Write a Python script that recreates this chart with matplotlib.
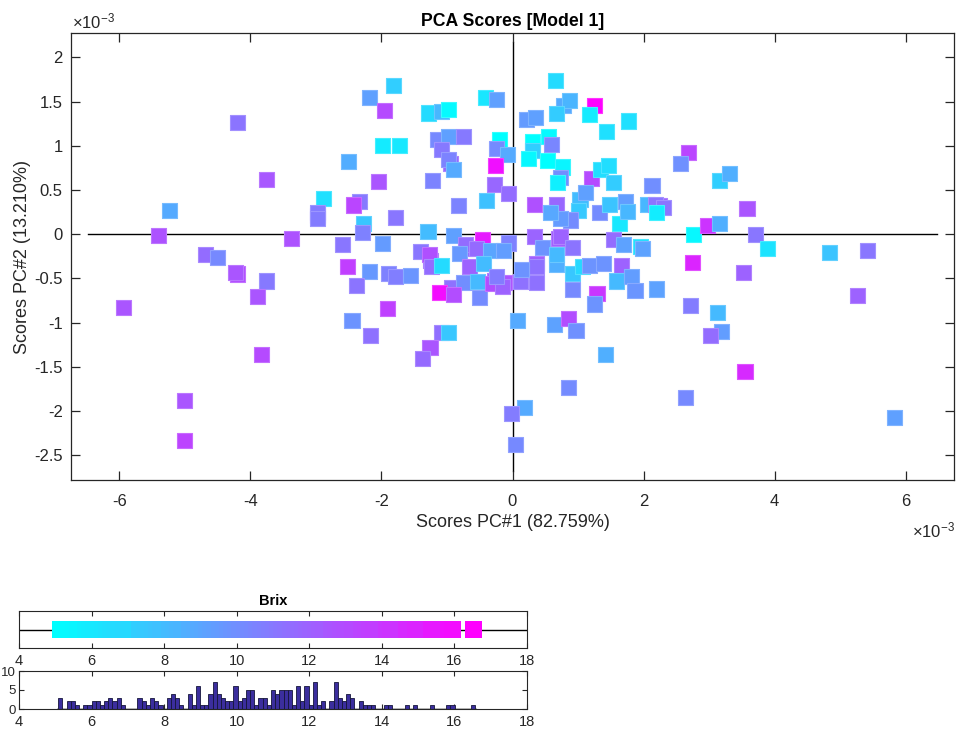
import numpy as np
import matplotlib
matplotlib.use("Agg")
import matplotlib.pyplot as plt
from matplotlib.colors import Normalize

plt.rcParams['font.family'] = ['Liberation Sans', 'DejaVu Sans']
plt.rcParams['mathtext.fontset'] = 'custom'
plt.rcParams['mathtext.rm'] = 'Liberation Sans'
plt.rcParams['mathtext.it'] = 'Liberation Sans'

# scores (x1e-3), first rows are samples hidden behind others
pc1 = [-0.70, 0.36, -0.28, -1.25, 0.70, -0.95, 2.25, -2.97, -4.20, 0.35, -0.12,
       -4.20, -3.76, -5.24, -5.41, -2.89, -2.97, -2.97, -3.38, -4.68, -4.50, -4.23, -3.75,
       -3.89, -5.94, -3.83, -5.01, -5.01,
       -1.82, -2.19, -1.96, -1.28, -1.09, -0.98, -0.41, -0.25, 0.65, 0.78, 0.87, 1.25,
       1.18, 0.67, 0.22, 0.35, 1.77, 1.43, -1.99, -1.72, -1.15, -0.98, -0.75, -1.09,
       -0.20, -0.24, -0.08, -0.26, 0.31, 0.55, 0.60, 0.31, 0.25, 0.53, 0.77, -0.98,
       -0.90, -2.51, -1.22, -2.04, -0.28, -0.06, 0.73, 0.69, 1.20, 1.34, 1.47, 1.54,
       -2.33, -2.43, -1.78, -0.83, -0.39, 0.34, 0.67, 1.03, 1.11, 1.01, 0.89, 0.73,
       0.58, 1.33, 1.48, 1.64, -2.28, -2.29, -1.99, -2.59, -1.29, -0.90, -0.46, -0.72,
       -0.06, 0.34, 0.73, 1.54,
       -1.41, -1.27, -1.23, -1.08, -0.81, -0.55, -0.34, -0.14, -0.66, -0.44, -2.52, -2.19,
       -1.89, -1.79, -1.56, -2.38, -0.93, -0.75, -0.53, -1.11, -0.90, -0.51, -0.30, -0.15,
       -0.25, 0.12, 0.37, 0.36, 0.14, 0.46, 0.67, 0.67, 0.92, 0.92, 1.07, 1.18,
       1.39, 1.67, 1.59, 0.92, 1.29, 1.25, -2.45, -1.91, -2.17, -1.09, -0.98, -1.26,
       -1.37, 0.08, 0.64, 0.85, 0.97, 1.42, 0.85, 0.19, -0.02, 0.04,
       2.77, 2.97, 3.16, 3.71, 3.89, 4.84, 5.42, 1.69, 1.95, 1.98, 1.82, 1.87,
       2.20, 2.75, 3.52, 5.27, 2.72, 3.13, 3.19, 3.02, 3.55, 2.64, 5.83, 2.69,
       2.56, 2.13, 3.16, 3.31, 1.72, 1.75, 2.06, 2.18, 2.30, 2.20, 3.58]
pc2 = [-0.16, -0.33, -0.52, -0.30, -0.05, 0.80, 0.32, 0.21, -0.45, -0.52, -0.55,
       1.26, 0.62, 0.27, -0.01, 0.40, 0.24, 0.18, -0.05, -0.23, -0.26, -0.43, -0.53,
       -0.70, -0.83, -1.36, -1.88, -2.33,
       1.68, 1.55, 1.40, 1.37, 1.39, 1.41, 1.55, 1.52, 1.74, 1.46, 1.51, 1.46,
       1.35, 1.36, 1.30, 1.32, 1.28, 1.16, 1.00, 1.00, 1.07, 1.10, 1.10, 0.96,
       1.07, 0.97, 0.90, 0.78, 1.05, 1.10, 1.01, 0.95, 0.86, 0.83, 0.76, 0.84,
       0.73, 0.82, 0.61, 0.60, 0.56, 0.46, 0.64, 0.58, 0.63, 0.73, 0.78, 0.58,
       0.37, 0.33, 0.19, 0.32, 0.38, 0.34, 0.34, 0.39, 0.47, 0.27, 0.16, 0.18,
       0.24, 0.24, 0.34, 0.12, 0.12, 0.02, -0.11, -0.12, 0.03, -0.02, -0.06, -0.12,
       -0.10, -0.03, -0.03, -0.06,
       -0.20, -0.23, -0.37, -0.35, -0.22, -0.16, -0.18, -0.18, -0.37, -0.33, -0.37, -0.42,
       -0.44, -0.48, -0.47, -0.58, -0.60, -0.55, -0.54, -0.66, -0.68, -0.72, -0.56, -0.59,
       -0.48, -0.54, -0.55, -0.37, -0.40, -0.15, -0.34, -0.23, -0.15, -0.44, -0.37, -0.35,
       -0.33, -0.35, -0.53, -0.63, -0.67, -0.79, -0.98, -0.84, -1.15, -1.11, -1.11, -1.28,
       -1.41, -0.98, -1.02, -0.95, -1.09, -1.36, -1.73, -1.96, -2.03, -2.38,
       0.00, 0.10, 0.12, 0.00, -0.16, -0.21, -0.18, -0.12, -0.14, -0.16, -0.48, -0.64,
       -0.62, -0.32, -0.43, -0.69, -0.81, -0.89, -1.10, -1.15, -1.55, -1.85, -2.07, 0.92,
       0.80, 0.55, 0.61, 0.69, 0.37, 0.26, 0.34, 0.34, 0.30, 0.24, 0.29]
# brix guessed from marker colour, only used to rank the samples
brix_est = [12.0, 12.5, 12.5, 12.0, 12.5, 12.0, 12.2, 12.0, 13.0, 12.5, 12.8,
            11.5, 12.5, 8.8, 12.8, 6.2, 11.0, 11.0, 12.8, 11.8, 10.8, 12.5, 11.0,
            12.5, 12.5, 13.0, 12.5, 13.2,
            7.2, 9.0, 13.0, 6.5, 8.2, 5.5, 5.8, 9.0, 6.3, 8.8, 8.2, 16.5,
            5.7, 7.3, 9.5, 9.0, 6.2, 6.2, 5.7, 5.7, 10.8, 9.0, 11.0, 11.0,
            5.1, 10.5, 8.8, 16.0, 5.4, 5.4, 10.8, 7.2, 5.6, 5.1, 5.6, 10.8,
            8.8, 8.5, 10.8, 12.5, 12.0, 11.7, 10.0, 5.6, 13.0, 6.2, 6.2, 7.3,
            11.0, 13.0, 11.0, 10.8, 7.8, 12.8, 12.0, 7.8, 9.0, 7.3, 10.5, 9.5,
            8.8, 10.5, 7.5, 5.7, 7.3, 10.8, 9.5, 11.0, 7.8, 9.0, 15.5, 11.8,
            10.8, 12.0, 12.3, 11.8,
            11.3, 12.8, 11.8, 6.3, 9.5, 11.8, 8.8, 9.0, 12.0, 7.8, 13.5, 9.5,
            10.8, 10.8, 9.5, 11.5, 11.5, 10.0, 7.8, 16.0, 12.8, 10.0, 12.8, 12.0,
            10.8, 11.5, 11.5, 11.5, 9.6, 9.6, 8.2, 7.8, 11.3, 7.3, 6.8, 9.6,
            9.6, 12.0, 7.8, 10.5, 13.5, 9.6, 9.6, 13.2, 11.5, 11.5, 7.3, 12.5,
            11.8, 8.5, 8.8, 12.8, 9.6, 8.3, 10.0, 8.5, 10.8, 10.5,
            5.5, 14.5, 8.3, 11.0, 6.0, 7.3, 11.0, 8.8, 5.9, 8.8, 9.0, 9.5,
            8.8, 15.0, 12.3, 12.3, 10.8, 7.8, 9.3, 11.5, 14.8, 10.5, 8.8, 13.0,
            9.6, 9.6, 7.2, 8.2, 9.0, 7.8, 7.8, 11.3, 11.3, 5.6, 12.5]

# Brix histogram: 100 bins between these limits, counts per bin
brix_lo, brix_hi = 5.08, 16.58
brix_counts = [3, 0, 2, 2, 1, 0, 1, 1, 2, 2, 1, 2, 3, 2, 3, 1, 0, 0, 0, 3,
               2, 1, 3, 2, 1, 0, 3, 4, 3, 1, 0, 4, 1, 6, 1, 1, 4, 7, 4, 3,
               2, 2, 6, 2, 3, 5, 5, 1, 3, 3, 1, 5, 4, 5, 5, 5, 1, 6, 2, 6,
               1, 7, 1, 2, 0, 2, 7, 3, 2, 4, 3, 0, 2, 1, 1, 1, 0, 0, 1, 1,
               0, 0, 0, 1, 0, 1, 0, 0, 0, 1, 0, 0, 0, 1, 1, 0, 0, 0, 0, 1]

edges = np.linspace(brix_lo, brix_hi, len(brix_counts) + 1)
centers = 0.5 * (edges[:-1] + edges[1:])
brix_sorted = np.repeat(centers, brix_counts)
rank = np.argsort(np.argsort(np.array(brix_est), kind='stable'), kind='stable')
brix = brix_sorted[rank]

cmap = plt.get_cmap('cool')
norm = Normalize(brix.min(), brix.max())


def colours(vals):
    face = cmap(norm(vals))
    edge = face.copy()
    edge[:, :3] = 0.8 * edge[:, :3] + 0.2
    return face, edge


dark = '#262626'
fig = plt.figure(figsize=(9.57, 7.31), dpi=100)
W, H = 957.0, 731.0

# main scores plot
ax = fig.add_axes([71 / W, 1 - 480 / H, 883 / W, 447 / H])
ax.axhline(0, xmin=0.019, xmax=0.981, color='black', lw=1.0, zorder=1)
ax.axvline(0, ymin=0.021, ymax=0.979, color='black', lw=1.0, zorder=1)
fc, ec = colours(brix)
ax.scatter(pc1, pc2, s=118, marker='s', c=fc, edgecolors=ec, linewidths=0.8, zorder=2)
ax.set_xlim(-6.74, 6.74)
ax.set_ylim(-2.78, 2.275)
ax.set_xticks(np.arange(-6, 7, 2))
ax.set_xticklabels([str(v) for v in range(-6, 7, 2)])
yt = [-2.5, -2, -1.5, -1, -0.5, 0, 0.5, 1, 1.5, 2]
ax.set_yticks(yt)
ax.set_yticklabels(['%g' % v for v in yt])
ax.tick_params(direction='in', length=6.5, width=0.9, top=True, right=True,
               labelsize=12, colors=dark)
ax.tick_params(axis='x', pad=10)
ax.tick_params(axis='y', pad=6)
for sp in ax.spines.values():
    sp.set_color(dark)
    sp.set_linewidth(0.9)
ax.set_title('PCA Scores [Model 1]', fontsize=12.7, fontweight='bold', pad=5)
ax.set_xlabel('Scores PC#1 (82.759%)', fontsize=13, color=dark)
ax.set_ylabel('Scores PC#2 (13.210%)', fontsize=13, color=dark)
ax.xaxis.set_label_coords(0.5, -0.077)
ax.yaxis.set_label_coords(-0.045, 0.5)
fig.text(72 / W, 1 - 28 / H, r'$\times10^{-3}$', fontsize=12, color=dark,
         ha='left', va='baseline')
fig.text(955 / W, 1 - 537 / H, r'$\times10^{-3}$', fontsize=12, color=dark,
         ha='right', va='baseline')

# colour strip of the Brix values
ax2 = fig.add_axes([19 / W, 1 - 648 / H, 508 / W, 37 / H])
ax2.axhline(0, color='black', lw=1.0, zorder=1)
sfc, sec = colours(np.sort(brix))
ax2.scatter(np.sort(brix), np.zeros(len(brix)), s=140, marker='s', c=sfc,
            edgecolors='none', zorder=2)
ax2.set_xlim(4, 18)
ax2.set_ylim(-1, 1)
ax2.set_yticks([])
ax2.set_xticks(np.arange(4, 19, 2))
ax2.tick_params(direction='in', length=3.5, width=0.8, top=True, labelsize=10.5,
                colors=dark, pad=4)
ax2.set_title('Brix', fontsize=10.5, fontweight='bold', pad=4)

# histogram of the Brix values
ax3 = fig.add_axes([19 / W, 1 - 709 / H, 508 / W, 38 / H])
ax3.plot([brix_lo, brix_hi], [0, 0], color='#b4b4b4', lw=2.0, zorder=1)
ax3.hist(brix, bins=edges, color='#3b2e9e', edgecolor='#15153a', linewidth=0.6, zorder=2)
ax3.set_xlim(4, 18)
ax3.set_ylim(0, 10)
ax3.set_yticks([0, 5, 10])
ax3.set_xticks(np.arange(4, 19, 2))
ax3.tick_params(direction='in', length=3.5, width=0.8, top=True, right=True,
                labelsize=10.5, colors=dark, pad=4)
ax3.tick_params(axis='y', labelsize=9.5, pad=2.5)

for a in (ax2, ax3):
    for sp in a.spines.values():
        sp.set_color(dark)
        sp.set_linewidth(0.8)

fig.savefig('out.png', dpi=100)
